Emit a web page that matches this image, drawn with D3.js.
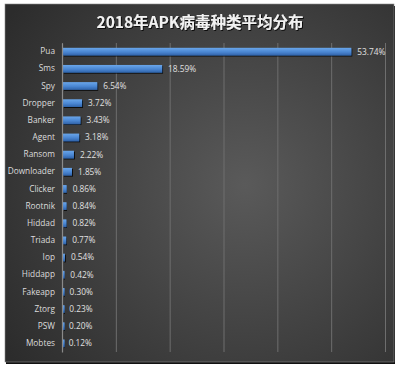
<!DOCTYPE html>
<html><head><meta charset="utf-8">
<script src="https://cdn.jsdelivr.net/npm/d3@7"></script>
<style>html,body{margin:0;padding:0;background:#fff;}svg{display:block;}</style>
</head><body>
<svg id="chart" width="400" height="368"></svg>
<script>
const title = "2018年APK病毒种类平均分布";
const categories = ["Pua","Sms","Spy","Dropper","Banker","Agent","Ransom","Downloader","Clicker","Rootnik","Hiddad","Triada","Iop","Hiddapp","Fakeapp","Ztorg","PSW","Mobtes"];
const values = [53.74,18.59,6.54,3.72,3.43,3.18,2.22,1.85,0.86,0.84,0.82,0.77,0.54,0.42,0.30,0.23,0.20,0.12];
const xTicks = [0,10,20,30,40,50,60];

const svg = d3.select("#chart");
const defs = svg.append("defs");
const bg = defs.append("radialGradient").attr("id","bg")
  .attr("gradientUnits","userSpaceOnUse").attr("cx",245).attr("cy",185).attr("r",290);
bg.append("stop").attr("offset","0%").attr("stop-color","#5a5a5a");
bg.append("stop").attr("offset","100%").attr("stop-color","#2c2c2c");
const bar = defs.append("linearGradient").attr("id","bar").attr("x1",0).attr("y1",0).attr("x2",0).attr("y2",1);
bar.append("stop").attr("offset","0%").attr("stop-color","#6aa6ea");
bar.append("stop").attr("offset","55%").attr("stop-color","#4a86d2");
bar.append("stop").attr("offset","100%").attr("stop-color","#2f62a8");
const sh = defs.append("filter").attr("id","tsh");
sh.append("feDropShadow").attr("dx",1).attr("dy",1).attr("stdDeviation",0.6).attr("flood-color","#000").attr("flood-opacity",0.8);

// panel
svg.append("rect").attr("x",6).attr("y",6).attr("width",389).attr("height",358).attr("fill","#111");
svg.append("rect").attr("x",5).attr("y",4).attr("width",389).attr("height",358)
  .attr("fill","url(#bg)").attr("stroke","#8a8a8a").attr("stroke-width",0.6);

svg.append("text").attr("x",200).attr("y",27.5).attr("text-anchor","middle")
  .attr("font-family","'Noto Sans CJK SC', 'Noto Sans', sans-serif").attr("font-weight","bold")
  .attr("font-size",15.5).attr("fill","#f2f2f2").attr("filter","url(#tsh)").text(title);

const x = d3.scaleLinear().domain([0,60]).range([62,385]);
const y = d3.scaleBand().domain(categories).range([43,352]).paddingInner(0.55).paddingOuter(0.28);

// gridlines
const grid = svg.append("g").attr("transform","translate(0,352)")
  .call(d3.axisBottom(x).tickValues(xTicks).tickSize(-309).tickFormat(""));
grid.select(".domain").remove();
grid.selectAll(".tick line").attr("stroke","#6e6e6e").attr("stroke-width",1);

// bars
svg.append("g").selectAll("rect").data(categories).join("rect")
  .attr("x",x(0)+1).attr("y",d=>y(d)).attr("height",y.bandwidth())
  .attr("width",(d,i)=>Math.max(1.5,x(values[i])-x(0)-1))
  .attr("fill","url(#bar)").attr("filter","url(#tsh)");

// value labels
svg.append("g").selectAll("text").data(categories).join("text")
  .attr("x",(d,i)=>x(values[i])+6).attr("y",d=>y(d)+y.bandwidth()/2).attr("dy","0.35em")
  .attr("font-family","'Open Sans', 'Liberation Sans', sans-serif").attr("font-size",8.3)
  .attr("fill","#e0e0e0").text((d,i)=>values[i].toFixed(2)+"%");

// category axis
const yAxis = svg.append("g").attr("transform","translate(62,0)")
  .call(d3.axisLeft(y).tickSize(0).tickPadding(7));
yAxis.select(".domain").attr("stroke","#8a8a8a").attr("stroke-width",1.2);
yAxis.selectAll("text").attr("font-family","'Open Sans', 'Liberation Sans', sans-serif")
  .attr("font-size",8.3).attr("fill","#dcdcdc");
</script>
</body></html>
